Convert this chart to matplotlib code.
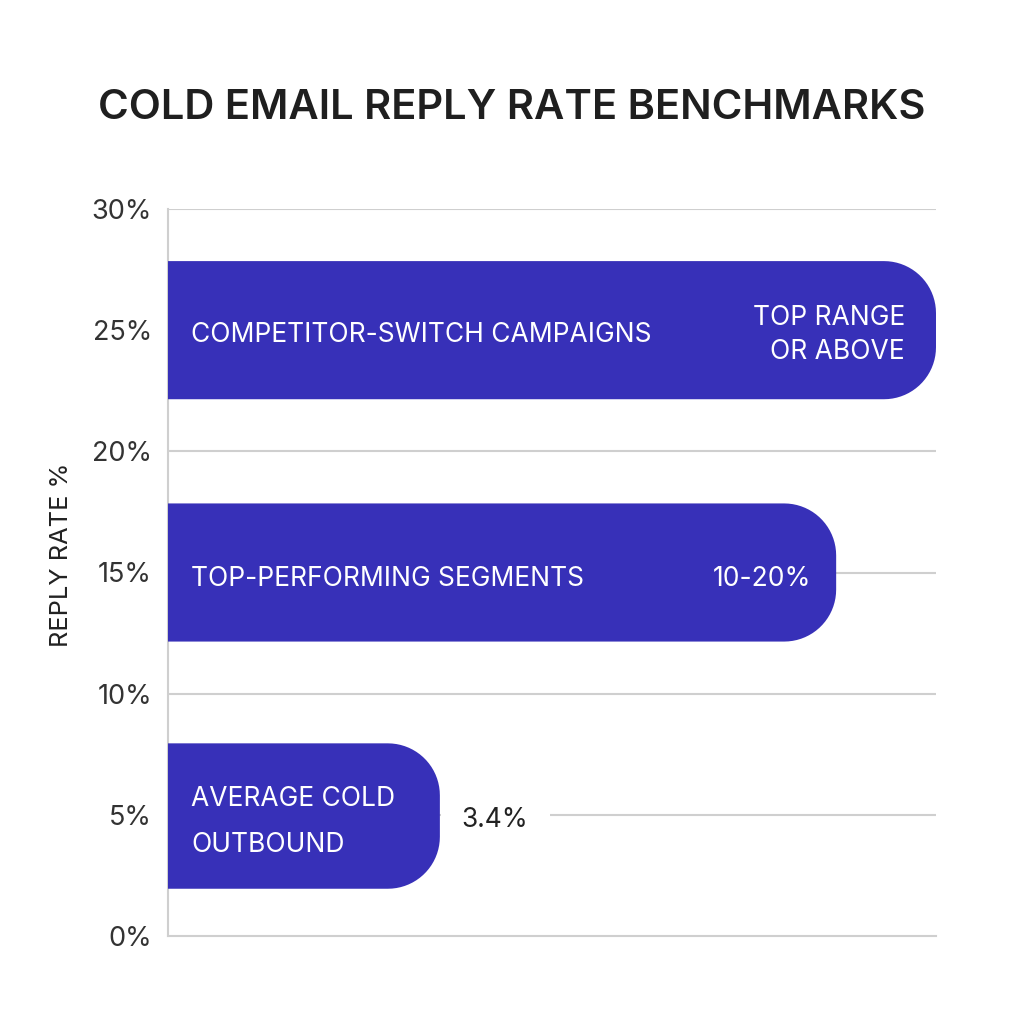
import numpy as np
import matplotlib
matplotlib.use("Agg")
import matplotlib.pyplot as plt
from matplotlib.path import Path
from matplotlib.patches import PathPatch

plt.rcParams['font.family'] = ['Inter', 'DejaVu Sans']

# ---- data ----
categories = ["AVERAGE COLD\nOUTBOUND", "TOP-PERFORMING SEGMENTS", "COMPETITOR-SWITCH CAMPAIGNS"]
bar_centers = [4.95, 15.0, 25.0]          # reply rate % position on y axis
bar_heights = [6.0, 5.7, 5.7]
bar_lengths = [3.54, 8.70, 10.0]          # relative visual length (x axis 0..10)
value_labels = ["3.4%", "10-20%", "TOP RANGE\nOR ABOVE"]
label_inside = [False, True, True]
yticks = [0, 5, 10, 15, 20, 25, 30]
ytick_labels = ["0%", "5%", "10%", "15%", "20%", "25%", "30%"]

BAR = "#3730B8"
GRID = "#CFCFCF"

fig = plt.figure(figsize=(10.24, 10.24), dpi=100)
ax = fig.add_axes([168/1024, 1-936/1024, 768/1024, (936-209)/1024])
ax.set_xlim(0, 10)
ax.set_ylim(0, 30)

# px -> data conversion
px_x = 10 / 768.0
px_y = 30 / (936 - 209.0)

def rounded_bar(ax, y0, h, length, r_px=52):
    rx = r_px * px_x
    ry = min(r_px * px_y, h / 2)
    x_end = length
    t1 = np.linspace(np.pi/2, 0, 20)
    t2 = np.linspace(0, -np.pi/2, 20)
    top = y0 + h
    verts = [(0, y0), (0, top), (x_end - rx, top)]
    cx, cy = x_end - rx, top - ry
    verts += [(cx + rx*np.cos(t), cy + ry*np.sin(t)) for t in t1]
    cy2 = y0 + ry
    verts += [(cx + rx*np.cos(t), cy2 + ry*np.sin(t)) for t in t2]
    verts += [(0, y0), (0, y0)]
    codes = [Path.MOVETO] + [Path.LINETO]*(len(verts)-2) + [Path.CLOSEPOLY]
    patch = PathPatch(Path(verts, codes), facecolor=BAR, edgecolor='none', zorder=3)
    ax.add_patch(patch)

for yc, h, L in zip(bar_centers, bar_heights, bar_lengths):
    rounded_bar(ax, yc - h/2, h, L)

# gridlines
for yt in yticks[1:]:
    ax.axhline(yt, color=GRID, lw=1.5, zorder=1)

ax.spines['top'].set_visible(False)
ax.spines['right'].set_visible(False)
for s in ['left', 'bottom']:
    ax.spines[s].set_color(GRID)
    ax.spines[s].set_linewidth(1.5)
ax.spines['bottom'].set_zorder(1)

ax.set_xticks([])
ax.set_yticks(yticks)
ax.set_yticklabels(ytick_labels, fontsize=19.5, color="#333333")
ax.tick_params(axis='y', length=0, pad=11.5)
fig.text(62/1024, 1-555/1024, "REPLY RATE %", rotation=90, ha='center', va='center',
         fontsize=18.3, color="#222222")

right_offsets = [22, -25, -31]
text_dy = [-6, -6, -5]
for cat, yc, L, val, inside, ro, dy in zip(categories, bar_centers, bar_lengths,
                                           value_labels, label_inside, right_offsets, text_dy):
    ax.annotate(cat, xy=(0, yc), xytext=(23, dy), textcoords='offset pixels',
                ha='left', va='center', color='white', fontsize=19,
                linespacing=2.0, zorder=5)
    if inside:
        ax.annotate(val, xy=(L, yc), xytext=(ro, dy), textcoords='offset pixels',
                    ha='right', va='center', color='white', fontsize=19,
                    linespacing=1.37, multialignment='right', zorder=5)
    else:
        ax.annotate(val, xy=(L, yc), xytext=(ro, dy + 2), textcoords='offset pixels',
                    ha='left', va='center', color='#222222', fontsize=19, zorder=2,
                    bbox=dict(boxstyle='square,pad=0.8', fc='white', ec='none'))

fig.text(0.5, 1-108/1024, "COLD EMAIL REPLY RATE BENCHMARKS", ha='center', va='center',
         fontsize=30, fontweight='semibold', color="#1f1f1f")

fig.savefig("out.png", dpi=100, facecolor='white')
